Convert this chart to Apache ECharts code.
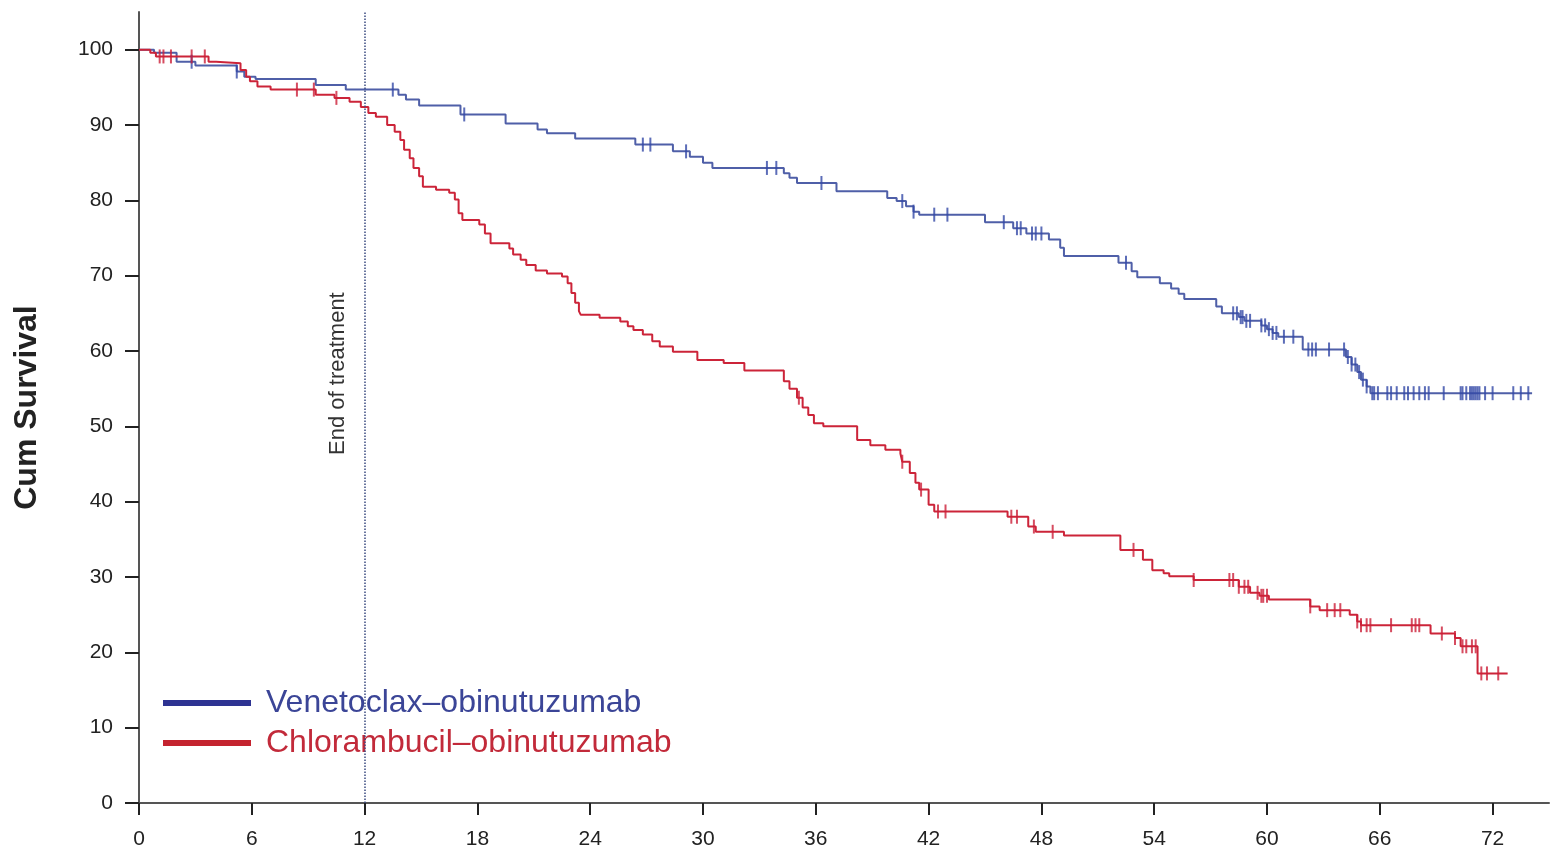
<!DOCTYPE html>
<html>
<head>
<meta charset="utf-8">
<script src="https://cdn.jsdelivr.net/npm/echarts@6/dist/echarts.min.js"></script>
<style>
html,body{margin:0;padding:0;background:#fff}
#km{width:1552px;height:855px}
</style>
</head>
<body>
<div id="km"></div>
<script>
// tick labels
var xTicks = [0, 6, 12, 18, 24, 30, 36, 42, 48, 54, 60, 66, 72];
var yTicks = [0, 10, 20, 30, 40, 50, 60, 70, 80, 90, 100];

// Venetoclax-obinutuzumab (event times in months / cum survival %)
var venTime = [0, 0.8, 2.0, 3.0, 5.2, 5.6, 6.2, 9.4, 11.0, 13.8, 14.2, 14.9, 17.1, 19.5, 21.2, 21.7, 23.2, 26.4, 28.4, 29.3, 30.0, 30.5,
  34.3, 34.6, 35.0, 37.1, 39.8, 40.3, 40.8, 41.2, 41.5, 45.0, 46.5, 47.2, 48.4, 49.0, 49.2, 52.1, 52.8, 53.1, 54.3, 54.9,
  55.3, 55.6, 57.3, 57.6, 58.5, 58.8, 59.7, 60.0, 60.3, 60.6, 61.9, 64.2, 64.5, 64.8, 65.0, 65.3, 65.5, 74.1];
var venSurv = [100, 99.6, 98.4, 97.9, 97.1, 96.4, 96.1, 95.3, 94.7, 94.0, 93.4, 92.6, 91.4, 90.2, 89.4, 88.9, 88.2, 87.4, 86.5, 85.8, 85.0, 84.3,
  83.6, 83.0, 82.3, 81.2, 80.3, 79.9, 79.2, 78.5, 78.1, 77.1, 76.3, 75.6, 74.8, 73.7, 72.6, 71.7, 70.6, 69.8, 69.0, 68.3,
  67.6, 66.9, 65.9, 65.0, 64.5, 64.0, 63.4, 62.9, 62.4, 61.9, 60.2, 59.2, 58.2, 57.2, 56.2, 55.3, 54.4, 54.4];
var venCensor = [2.8, 5.2, 13.5, 17.3, 26.8, 27.2, 29.1, 33.4, 33.9, 36.3, 40.6, 41.2, 42.3, 43.0, 46.0, 46.7, 46.9, 47.5, 47.7, 48.0,
  52.5, 58.2, 58.4, 58.6, 58.7, 58.9, 59.1, 59.7, 59.9, 60.1, 60.3, 60.5, 60.9, 61.4, 62.2, 62.4, 62.6, 63.3, 64.1, 64.3, 64.5,
  64.7, 64.9, 65.1, 65.3, 65.6, 65.7, 65.9, 66.4, 66.6, 66.9, 67.3, 67.5, 67.8, 68.1, 68.4, 68.6, 69.4, 70.3, 70.4, 70.6,
  70.8, 70.9, 71.0, 71.1, 71.2, 71.3, 71.6, 72.0, 73.1, 73.5, 73.9];

// Chlorambucil-obinutuzumab
var chlTime = [0, 0.6, 0.9, 3.7, 4.1, 5.4, 5.7, 5.9, 6.3, 7.0, 9.4, 10.4, 11.2, 11.8, 12.2, 12.6, 13.2, 13.6, 13.9, 14.1, 14.4,
  14.6, 14.9, 15.1, 15.8, 16.5, 16.8, 17.0, 17.2, 18.1, 18.4, 18.7, 19.7, 19.9, 20.3, 20.6, 21.1, 21.7, 22.5, 22.8, 23.0,
  23.2, 23.4, 23.5, 24.5, 25.6, 26.0, 26.3, 26.8, 27.3, 27.7, 28.4, 29.7, 31.1, 32.2, 34.3, 34.6, 35.0, 35.3, 35.6, 35.9,
  36.4, 38.2, 38.9, 39.7, 40.5, 40.6, 41.0, 41.3, 41.5, 42.0, 42.3, 46.2, 47.3, 47.7, 49.2, 52.2, 53.4, 53.9, 54.5, 54.8,
  56.1, 58.5, 59.1, 59.6, 60.1, 62.3, 62.8, 64.4, 64.8, 65.0, 68.7, 70.0, 70.3, 71.2, 72.8];
var chlSurv = [100, 99.6, 99.1, 98.4, 98.2, 97.3, 96.4, 95.8, 95.1, 94.7, 94.0, 93.6, 93.1, 92.4, 91.6, 91.1, 90.0, 89.1, 88.0, 86.7, 85.6,
  84.3, 83.2, 81.8, 81.4, 81.0, 80.1, 78.3, 77.4, 76.8, 75.6, 74.3, 73.6, 72.8, 72.1, 71.4, 70.7, 70.3, 69.9, 69.0, 67.7,
  66.4, 65.3, 64.8, 64.4, 63.9, 63.3, 62.8, 62.2, 61.3, 60.6, 59.9, 58.8, 58.4, 57.4, 56.0, 55.0, 53.8, 52.5, 51.5, 50.4,
  50.0, 48.2, 47.5, 46.9, 46.4, 45.3, 43.8, 42.5, 41.6, 39.6, 38.7, 38.0, 36.7, 36.0, 35.5, 33.6, 32.3, 30.9, 30.5, 30.1,
  29.6, 28.7, 27.9, 27.5, 27.0, 26.1, 25.6, 25.0, 24.1, 23.6, 22.5, 21.9, 20.8, 17.2, 17.2];
var chlCensor = [1.1, 1.3, 1.7, 2.8, 3.5, 8.4, 9.3, 10.5, 35.1, 40.6, 41.6, 42.5, 42.9, 46.4, 46.7, 47.6, 48.6, 52.9, 56.1,
  58.0, 58.2, 58.5, 58.8, 59.0, 59.5, 59.7, 59.8, 60.0, 62.3, 63.2, 63.6, 63.9, 64.8, 65.0, 65.3, 65.5, 66.6, 67.7, 67.9,
  68.1, 69.3, 70.0, 70.4, 70.6, 70.9, 71.1, 71.4, 71.7, 72.3];

var endOfTreatment = 12;

function pairs(t, s) {
  var out = [];
  for (var i = 0; i < t.length; i++) out.push([t[i], s[i]]);
  return out;
}
// value of the step curve at a censoring time
function censorPoints(t, s, c) {
  var out = [];
  for (var k = 0; k < c.length; k++) {
    var v = s[0];
    for (var i = 0; i < t.length; i++) { if (t[i] <= c[k]) v = s[i]; }
    out.push([c[k], v]);
  }
  return out;
}

var FONT = 'Liberation Sans';
var myChart = echarts.init(document.getElementById('km'));
var option = {
  animation: false,
  backgroundColor: '#fff',
  grid: {left: 139, right: 3, top: 12, bottom: 52},
  legend: {
    left: 158,
    top: 682,
    orient: 'vertical',
    icon: 'rect',
    itemWidth: 88,
    itemHeight: 6,
    itemGap: 8,
    textStyle: {fontFamily: FONT, fontSize: 32, padding: [0, 0, 0, 10]},
    data: [
      {name: 'Venetoclax–obinutuzumab', itemStyle: {color: '#2e3392'}, textStyle: {color: '#3b4597'}},
      {name: 'Chlorambucil–obinutuzumab', itemStyle: {color: '#c4232f'}, textStyle: {color: '#c22a3a'}}
    ]
  },
  xAxis: {
    type: 'value',
    min: 0,
    max: 75,
    axisLine: {lineStyle: {color: '#555', width: 2}},
    axisTick: {show: true, length: 12, lineStyle: {color: '#222', width: 2}, customValues: xTicks},
    axisLabel: {customValues: xTicks, fontFamily: FONT, fontSize: 21, color: '#222', margin: 26},
    splitLine: {show: false}
  },
  yAxis: {
    type: 'value',
    min: 0,
    max: 105,
    name: 'Cum Survival',
    nameLocation: 'middle',
    nameGap: 96,
    nameTextStyle: {fontFamily: FONT, fontSize: 32, fontWeight: 'bold', color: '#222'},
    axisLine: {show: true, lineStyle: {color: '#555', width: 2}},
    axisTick: {show: true, length: 14, lineStyle: {color: '#222', width: 2}, customValues: yTicks},
    axisLabel: {customValues: yTicks, fontFamily: FONT, fontSize: 21, color: '#222', margin: 26},
    splitLine: {show: false}
  },
  series: [
    {
      name: 'Venetoclax–obinutuzumab',
      type: 'line',
      step: 'end',
      showSymbol: false,
      z: 3,
      lineStyle: {color: '#4f5fa8', width: 2},
      itemStyle: {color: '#4f5fa8'},
      data: pairs(venTime, venSurv),
      markLine: {
        silent: true,
        symbol: 'none',
        label: {show: false},
        lineStyle: {color: '#3a4a80', type: 'dotted', width: 1.5},
        data: [{xAxis: endOfTreatment}]
      }
    },
    {
      name: 'Chlorambucil–obinutuzumab',
      type: 'line',
      step: 'end',
      showSymbol: false,
      z: 3,
      lineStyle: {color: '#cc2439', width: 2},
      itemStyle: {color: '#cc2439'},
      data: pairs(chlTime, chlSurv)
    },
    {
      name: 'ven censored',
      type: 'scatter',
      symbol: 'rect',
      symbolSize: [2, 14],
      z: 4,
      itemStyle: {color: '#3349a6'},
      data: censorPoints(venTime, venSurv, venCensor)
    },
    {
      name: 'chl censored',
      type: 'scatter',
      symbol: 'rect',
      symbolSize: [2, 14],
      z: 4,
      itemStyle: {color: '#cc1f38'},
      data: censorPoints(chlTime, chlSurv, chlCensor)
    }
  ]
};
myChart.setOption(option);

// "End of treatment" label beside the dotted line
var p = myChart.convertToPixel({gridIndex: 0}, [endOfTreatment, 57]);
myChart.setOption({
  graphic: [{
    type: 'text',
    x: p[0] - 27,
    y: p[1],
    rotation: Math.PI / 2,
    style: {text: 'End of treatment', fontFamily: FONT, fontSize: 22, fill: '#333', align: 'center', verticalAlign: 'middle'}
  }]
});
</script>
</body>
</html>
